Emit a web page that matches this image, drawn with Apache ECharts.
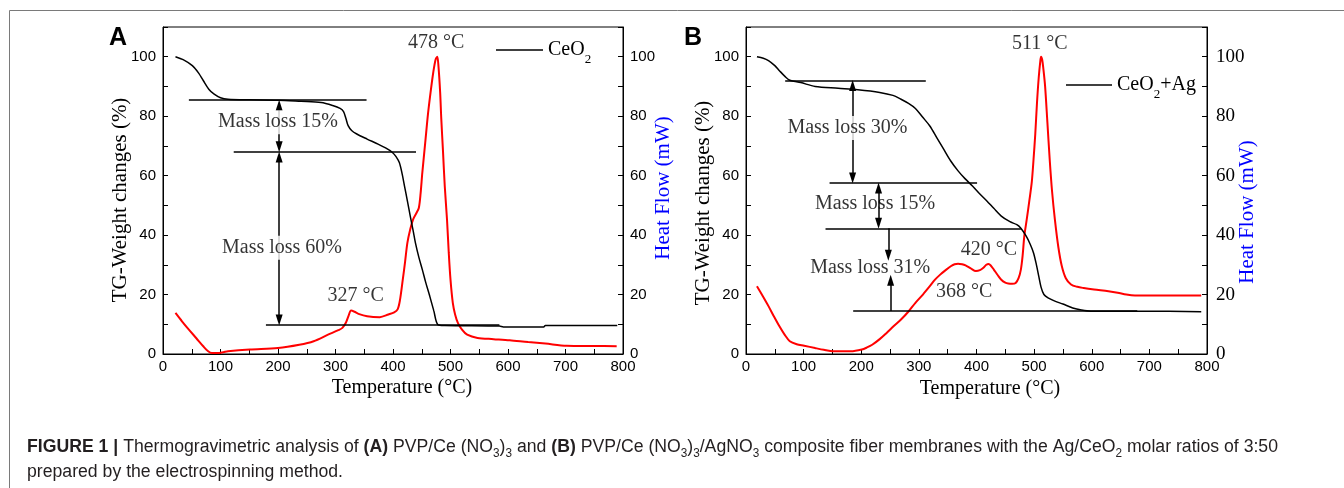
<!DOCTYPE html>
<html><head><meta charset="utf-8">
<script src="https://cdn.jsdelivr.net/npm/echarts@6/dist/echarts.min.js"></script>
<style>html,body{margin:0;padding:0;background:#fff}#c{width:1344px;height:488px}</style>
</head><body><div id="c"></div>
<script>
// ---------- DATA (temperature °C, value) ----------
const tgA = [[21.7,100],[35,99],[51,97],[62,94.5],[70,92],[80,89],[89,87.4],[100,86.2],[113,85.7],[150,85.5],[200,85.4],[240,85],[275,84.6],[295,83.6],[308,82.6],[314,81.5],[318,79.3],[322,76.8],[328,75.2],[337,74],[355,72.3],[374,70.6],[390,69],[399,67.8],[405,66.5],[411,64.4],[416,60.5],[420,56.5],[425,51.5],[430,46.4],[435,41.5],[439,37.4],[445,32.5],[451,28.4],[457,24],[464,19.4],[471,14.5],[478,9.9],[490,9.6],[585,9.4],[592,9.1],[662,9.1],[665,9.6],[790,9.6]];
const dscA = [[21.7,13.8],[33,11],[45,8.2],[58,5.3],[70,2.6],[78,1.0],[85,0.3],[95,0.3],[105,0.6],[113,0.9],[151,1.5],[200,2.0],[237,3.1],[262,4.3],[287,6.5],[305,8.0],[312,8.8],[318,10.5],[323,13],[327,14.6],[333,14.2],[340,13.5],[355,12.7],[377,12.4],[392,13.3],[402,14.0],[408,15],[412,18],[417,25],[421,31],[425,37.4],[430,42],[435,45.3],[441,47.5],[445,49.2],[448,54],[451,61],[456,71],[461,81],[466,89],[470,94.7],[474,99],[477,100],[479,97],[482,88],[484,79],[487,68],[490,56.5],[494,45],[497,34],[500,25],[504,17.2],[508,13.3],[513,10.4],[520,8.2],[529,6.5],[547,5.4],[575,5.0],[603,4.6],[635,4.0],[665,3.5],[702,2.8],[750,2.7],[789,2.6]];
const tgB = [[19,100],[30,99.5],[39,98.7],[50,97],[58,95.3],[68,93.3],[76,92.1],[95,91.3],[120,90],[160,89.4],[194,88.9],[232,88],[255,87],[269,85.7],[282,84.3],[294,82.6],[306,79.8],[319,76.7],[331,72.8],[343,68.9],[355,65],[368,61.6],[380,59],[393,56.5],[405,54],[418,51.5],[430,49],[443,46.4],[458,44.5],[470,43.5],[477,42.3],[486,39.7],[493,37],[499,34],[504,30],[508,26.2],[512,22.5],[517,20],[525,18.8],[536,17.8],[550,16.8],[567,15.5],[582,14.8],[598,14.4],[650,14.4],[691,14.4],[790,14.2]];
const dscB = [[19,22.8],[29,19.5],[39,16.1],[48,12.8],[58,9.3],[67,6.5],[76,4.3],[88,3.3],[101,2.8],[120,2.0],[135,1.4],[151,0.9],[182,0.9],[201,1.5],[210,2.2],[219,3.1],[232,5],[244,7.1],[256,9.3],[269,11.6],[282,14.3],[294,17.2],[307,20],[319,22.8],[328,25],[337,26.7],[347,28.3],[356,29.6],[362,30.2],[368,30.4],[375,30.2],[381,29.8],[390,28.8],[399,27.9],[406,28.2],[412,29],[417,30],[421,30.3],[425,29.7],[430,28.4],[437,26.5],[443,25],[450,24],[455,23.7],[462,23.6],[468,23.9],[473,25.5],[477,28.4],[480,33],[483,39.7],[487,45],[492,52],[496,58],[499,65.5],[502,74],[505,84.6],[508,93],[511,99],[512,100],[514,99],[516,96],[519,90.2],[523,78],[527,65.5],[531,55],[536,45.3],[542,36],[548,29.6],[555,25.5],[564,23.4],[575,22.6],[586,22.2],[604,21.7],[629,21.1],[645,20.6],[660,20],[675,19.7],[691,19.7],[790,19.7]];

// annotation levels: [T start, T end, value]
const levelsA = [[45,354,85.4],[123,440,68],[179,585,9.7]];
const arrowsA = [[202,85.4,68],[202,68,9.7]];           // [T, from, to] double-headed
const boxedNotesA = [[200,78,'Mass loss 15%'],[207,35.7,'Mass loss 60%']];
const peakNotesA = [[475,104.8,'478 °C'],[335,19.7,'327 °C']];

const levelsB = [[68,312,92],[145,401,57.5],[138,477,42.3],[186,679,14.5]];
const arrowsB = [[185,92,57.5],[230,57.5,42.3]];
const halfArrowsB = [[247,42.3,31.5],[251,14.5,26.5]];  // [T, from, to] head at 'to'
const boxedNotesB = [[176,76,'Mass loss 30%']];
const plainNotesB = [[224,50.7,'Mass loss 15%'],[215.5,29,'Mass loss 31%'],[510,104.5,'511 °C'],[421.7,35,'420 °C'],[378.8,20.8,'368 °C']];

const xTicks = {min:0, max:800, step:50, labelStep:100};
const yTicks = {min:0, max:110, step:10, labelStep:20};

const captionLine1 = [['b','FIGURE 1 |'],['n',' Thermogravimetric analysis of '],['b','(A)'],['n',' PVP/Ce (NO'],['s','3'],['n',')'],['s','3'],['n',' and '],['b','(B)'],['n',' PVP/Ce (NO'],['s','3'],['n',')'],['s','3'],['n','/AgNO'],['s','3'],['n',' composite fiber membranes with the Ag/CeO'],['s','2'],['n',' molar ratios of 3:50']];
const captionLine2 = [['n','prepared by the electrospinning method.']];

// ---------- BUILD ----------
const SANS = '"Liberation Sans", Arial, sans-serif';
const SERIF = '"Liberation Serif", "Times New Roman", serif';
const INSET = 1.7;

function xAxis(g){
  return {gridIndex:g, type:'value', min:xTicks.min, max:xTicks.max, interval:xTicks.step,
    axisLine:{show:true, lineStyle:{color:'#000', width:1}},
    axisTick:{show:true, inside:true, length:5, lineStyle:{color:'#000', width:1}},
    splitLine:{show:false},
    axisLabel:{color:'#000', fontFamily:SANS, fontSize:15, margin:5,
      formatter:v=> v % xTicks.labelStep === 0 ? String(v) : ''}};
}
function yAxis(g, pos, font, size, margin){
  return {gridIndex:g, type:'value', position:pos, min:yTicks.min, max:yTicks.max, interval:yTicks.step,
    axisLine:{show:true, onZero:false, lineStyle:{color:'#000', width:1}},
    axisTick:{show:true, inside:true, length:5, lineStyle:{color:'#000', width:1}},
    splitLine:{show:false},
    axisLabel:{color:'#000', fontFamily:font, fontSize:size, margin:margin,
      formatter:v=> v % yTicks.labelStep === 0 ? String(v) : ''}};
}
function markData(levels, arrows, half){
  const d = [];
  levels.forEach(l=>d.push([{coord:[l[0],l[2]],symbol:'none'},{coord:[l[1],l[2]],symbol:'none'}]));
  arrows.forEach(a=>{const s=Math.sign(a[2]-a[1]);
    d.push([{coord:[a[0],a[1]+s*INSET],symbol:'triangle'},{coord:[a[0],a[2]-s*INSET],symbol:'triangle'}]);});
  (half||[]).forEach(a=>{const s=Math.sign(a[2]-a[1]);
    d.push([{coord:[a[0],a[1]],symbol:'none'},{coord:[a[0],a[2]-s*INSET],symbol:'triangle'}]);});
  return d;
}
function tgSeries(name, data, g, marks){
  return {name, type:'line', xAxisIndex:g, yAxisIndex:g*2, data, symbol:'none', showSymbol:false,
    smooth:0.3, lineStyle:{color:'#000', width:1.5}, itemStyle:{color:'#000'}, z:3,
    markLine:{silent:true, symbolSize:[7,11], lineStyle:{color:'#000', width:1.5, type:'solid'},
      label:{show:false}, emphasis:{disabled:true}, animation:false, data:marks}};
}
function dscSeries(data, g){
  return {type:'line', xAxisIndex:g, yAxisIndex:g*2+1, data, symbol:'none', showSymbol:false,
    smooth:0.3, lineStyle:{color:'#ff0000', width:2}, itemStyle:{color:'#ff0000'}, z:2};
}
function noteSeries(notes, g, boxed){
  return {type:'scatter', xAxisIndex:g, yAxisIndex:g*2, symbolSize:0, silent:true, z:10,
    data:notes.map(n=>({value:[n[0],n[1]], name:n[2]})),
    label:{show:true, position:'inside', formatter:'{b}', color:'#000', fontFamily:SERIF, fontSize:20,
      backgroundColor: boxed ? '#fff' : 'transparent', padding:[1,2], lineHeight:22}};
}

const legendRich = {m:{fontFamily:SERIF, fontSize:20, lineHeight:32, color:'#000'},
                    s:{fontFamily:SERIF, fontSize:13, lineHeight:13, verticalAlign:'bottom', color:'#000'}};

// caption measurement
const capFonts = {n:'18px "Liberation Sans"', b:'bold 18px "Liberation Sans"', s:'12px "Liberation Sans"'};
const ctx = document.createElement('canvas').getContext('2d');
function lineWidth(segs){return segs.reduce((a,s)=>{ctx.font=capFonts[s[0]]; return a+ctx.measureText(s[1]).width;},0);}
const capScale = 1251 / lineWidth(captionLine1);
const capText = [captionLine1, captionLine2].map(l=>l.map(s=>'{'+s[0]+'|'+s[1]+'}').join('')).join('\n');
const capRich = {
  n:{fontFamily:'"Liberation Sans"', fontSize:18, lineHeight:25, fill:'#231f20', color:'#231f20'},
  b:{fontFamily:'"Liberation Sans"', fontSize:18, fontWeight:'bold', lineHeight:25, fill:'#231f20', color:'#231f20'},
  s:{fontFamily:'"Liberation Sans"', fontSize:12, lineHeight:16, verticalAlign:'bottom', fill:'#231f20', color:'#231f20'}
};

function vText(x, y, text, color){
  return {type:'text', x, y, rotation:Math.PI/2, silent:true,
    style:{text, font:'21px '+SERIF, fill:color, align:'center', verticalAlign:'middle'}};
}
function hText(x, y, text, font){
  return {type:'text', x, y, silent:true, style:{text, font, fill:'#000', align:'center', verticalAlign:'middle'}};
}

const option = {
  animation:false,
  backgroundColor:'#fff',
  grid:[
    {left:163, top:27, width:460, height:327, show:true, borderColor:'#000', borderWidth:1, backgroundColor:'transparent'},
    {left:746, top:27, width:461, height:327, show:true, borderColor:'#000', borderWidth:1, backgroundColor:'transparent'}
  ],
  xAxis:[xAxis(0), xAxis(1)],
  yAxis:[yAxis(0,'left',SANS,15,7), yAxis(0,'right',SANS,15,7), yAxis(1,'left',SANS,15,7), yAxis(1,'right',SERIF,19,9)],
  legend:[
    {data:['CeO2'], left:496, top:40, padding:0, icon:'rect', itemWidth:47, itemHeight:1.5, selectedMode:false,
      formatter:()=>'{m|CeO}{s|2}', textStyle:{rich:legendRich}},
    {data:['CeO2+Ag'], left:1066, top:75, padding:0, icon:'rect', itemWidth:46, itemHeight:1.5, selectedMode:false,
      formatter:()=>'{m|CeO}{s|2}{m|+Ag}', textStyle:{rich:legendRich}}
  ],
  series:[
    dscSeries(dscA,0),
    tgSeries('CeO2', tgA, 0, markData(levelsA, arrowsA)),
    noteSeries(boxedNotesA,0,true),
    noteSeries(peakNotesA,0,false),
    dscSeries(dscB,1),
    tgSeries('CeO2+Ag', tgB, 1, markData(levelsB, arrowsB, halfArrowsB)),
    noteSeries(boxedNotesB,1,true),
    noteSeries(plainNotesB,1,false)
  ],
  graphic:[
    {type:'rect', silent:true, shape:{x:9.5, y:10.5, width:1500, height:700}, style:{fill:'none', stroke:'#7a7a7a', lineWidth:1}},
    hText(118, 38, 'A', 'bold 25px '+SANS),
    hText(693, 38, 'B', 'bold 25px '+SANS),
    vText(120, 200, 'TG-Weight changes (%)', '#000'),
    vText(703, 203, 'TG-Weight changes (%)', '#000'),
    vText(663, 188, 'Heat Flow (mW)', '#0000ff'),
    vText(1247, 212, 'Heat Flow (mW)', '#0000ff'),
    hText(402, 388, 'Temperature (°C)', '20px '+SERIF),
    hText(990, 389, 'Temperature (°C)', '20px '+SERIF),
    {type:'text', x:27, y:435, scaleX:capScale, scaleY:1, silent:true,
      style:{text:capText, rich:capRich, align:'left', verticalAlign:'top', fill:'#231f20'}}
  ]
};
const chart = echarts.init(document.getElementById('c'), null, {renderer:'canvas'});
chart.setOption(option);
</script>
</body></html>
